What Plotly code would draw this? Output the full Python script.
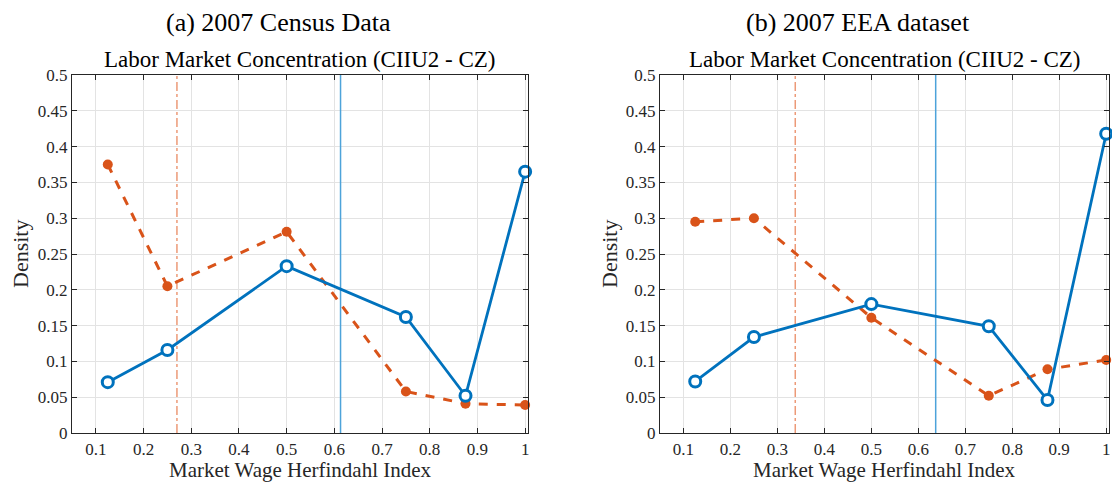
import plotly.graph_objects as go

# page is photographed at 1120x482; the figure div sits inside an 8px body margin
OFF = 8
W, H = 1120 - 2 * OFF, 482 - OFF

hhi_bins = [0.125, 0.25, 0.5, 0.75, 0.875, 1.0]

census_orange = [0.375, 0.205, 0.281, 0.058, 0.041, 0.039]
census_blue = [0.071, 0.116, 0.233, 0.162, 0.052, 0.365]
census_vline_orange = 0.27
census_vline_blue = 0.613

eea_orange = [0.295, 0.300, 0.161, 0.052, 0.089, 0.102]
eea_blue = [0.072, 0.134, 0.180, 0.149, 0.046, 0.418]
eea_vline_orange = 0.338
eea_vline_blue = 0.637

panel_titles = ["(a) 2007 Census Data", "(b) 2007 EEA dataset"]
axes_title = "Labor Market Concentration (CIIU2 - CZ)"
x_title = "Market Wage Herfindahl Index"
y_title = "Density"

x_ticks = [0.1, 0.2, 0.3, 0.4, 0.5, 0.6, 0.7, 0.8, 0.9, 1.0]
x_ticklabels = ["0.1", "0.2", "0.3", "0.4", "0.5", "0.6", "0.7", "0.8", "0.9", "1"]
y_ticks = [0, 0.05, 0.1, 0.15, 0.2, 0.25, 0.3, 0.35, 0.4, 0.45, 0.5]
y_ticklabels = ["0", "0.05", "0.1", "0.15", "0.2", "0.25", "0.3", "0.35", "0.4", "0.45", "0.5"]

BLUE = "#0072BD"
ORANGE = "#D95319"
VBLUE = "#4DA3DA"
VORANGE = "#EC9A78"
FONT = "Liberation Serif"

# plot-area in (screen) pixels
L1, R1, L2, R2 = 72, 528, 660, 1109
TOP, BOT = 75, 433
ML = L1 - OFF
MR = W - (R2 - OFF)
MT = TOP - OFF
MB = H - (BOT - OFF)
PW = W - ML - MR
PH = H - MT - MB

fig = go.Figure()

panels = [
    (census_orange, census_blue, census_vline_orange, census_vline_blue),
    (eea_orange, eea_blue, eea_vline_orange, eea_vline_blue),
]
x_domains = [[0, (R1 - L1) / PW], [(L2 - L1) / PW, 1.0]]

for i, (orng, blu, vo, vb) in enumerate(panels):
    xa = "x" if i == 0 else "x2"
    ya = "y" if i == 0 else "y2"
    fig.add_trace(go.Scatter(x=[vo, vo], y=[0, 0.5], mode="lines", xaxis=xa, yaxis=ya,
                             line=dict(color=VORANGE, width=1.5, dash="dashdot"), showlegend=False))
    fig.add_trace(go.Scatter(x=[vb, vb], y=[0, 0.5], mode="lines", xaxis=xa, yaxis=ya,
                             line=dict(color=VBLUE, width=1.5), showlegend=False))
    fig.add_trace(go.Scatter(x=hhi_bins, y=orng, mode="lines+markers", xaxis=xa, yaxis=ya,
                             line=dict(color=ORANGE, width=3, dash="dash"),
                             marker=dict(color=ORANGE, size=10, symbol="circle"),
                             showlegend=False, cliponaxis=False))
    fig.add_trace(go.Scatter(x=hhi_bins, y=blu, mode="lines+markers", xaxis=xa, yaxis=ya,
                             line=dict(color=BLUE, width=2.8),
                             marker=dict(color="white", size=11, symbol="circle",
                                         line=dict(color=BLUE, width=3)),
                             showlegend=False, cliponaxis=False))

axis_common = dict(
    showline=True, linecolor="#262626", linewidth=1.2, mirror="ticks",
    ticks="inside", ticklen=5, tickcolor="#262626",
    showgrid=True, gridcolor="#E3E3E3", gridwidth=1, zeroline=False,
    tickfont=dict(family=FONT, size=17, color="#262626"),
    automargin=False,
)

for i in range(2):
    sx = "" if i == 0 else "2"
    fig.update_layout(**{
        f"xaxis{sx}": dict(axis_common, domain=x_domains[i], range=[0.05, 1.006],
                           tickvals=x_ticks, ticktext=x_ticklabels,
                           anchor=f"y{sx}"),
        f"yaxis{sx}": dict(axis_common, domain=[0, 1], range=[0, 0.5],
                           tickvals=y_ticks, ticktext=y_ticklabels,
                           anchor=f"x{sx}"),
    })

# annotations placed by screen pixel (x, y)
ann = []
main_centers = [278, 858]
for i in range(2):
    ann.append((panel_titles[i], main_centers[i], 22, 26, "black", 0))
    cx = (L1 + R1) / 2 if i == 0 else (L2 + R2) / 2
    ann.append((axes_title, cx, 59, 23, "black", 0))
    ann.append((x_title, cx, 469.5, 21, "#262626", 0))
    ann.append((y_title, (20 if i == 0 else 609), (TOP + BOT) / 2, 22, "#262626", -90))

annotations = []
for text, px, py, fs, col, ang in ann:
    annotations.append(dict(text=text, x=(px - OFF - ML) / PW, y=(H - MB - (py - OFF)) / PH,
                            xref="paper", yref="paper", showarrow=False,
                            xanchor="center", yanchor="middle", textangle=ang,
                            font=dict(family=FONT, size=fs, color=col)))

fig.update_layout(
    width=W, height=H,
    margin=dict(l=ML, r=MR, t=MT, b=MB),
    paper_bgcolor="white", plot_bgcolor="white",
    annotations=annotations,
)

fig.write_html("out.html")
